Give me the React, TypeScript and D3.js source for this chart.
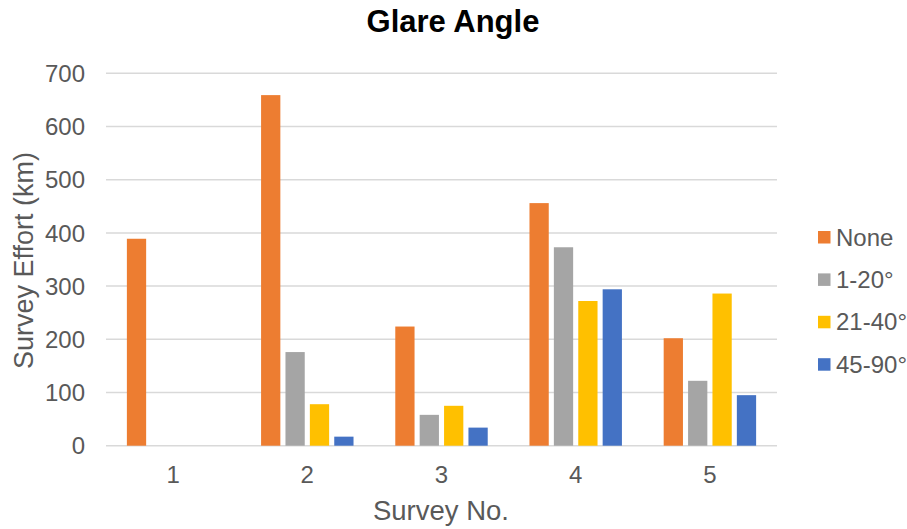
import React from "react";
import * as d3 from "d3";

const categories = ["1", "2", "3", "4", "5"];
const seriesNames = ["None", "1-20°", "21-40°", "45-90°"];
const seriesColors = ["#ED7D31", "#A5A5A5", "#FFC000", "#4472C4"];
const noneValues = [389, 659, 224, 456, 202];
const deg1to20 = [0, 176, 58, 373, 122];
const deg21to40 = [0, 78, 75, 272, 286];
const deg45to90 = [0, 17, 34, 294, 95];
const yTicks = [0, 100, 200, 300, 400, 500, 600, 700];

const seriesValues = [noneValues, deg1to20, deg21to40, deg45to90];

export default function App() {
  const W = 907, H = 529;
  const left = 106, right = 777, top = 73.3, bottom = 445.7;
  const font = "Arial, 'Liberation Sans', sans-serif";

  const x = d3.scaleBand<string>().domain(categories).range([left, right]).paddingInner(0.273).paddingOuter(0.1365);
  const xs = d3.scaleBand<string>().domain(seriesNames).range([0, x.bandwidth()]);
  const y = d3.scaleLinear().domain([0, 700]).range([bottom, top]);
  const barW = xs.bandwidth() * 0.79;

  return (
    <svg width={W} height={H} style={{ position: "absolute", left: 0, top: 0, background: "#fff" }}>
      <rect x={0} y={0} width={W} height={H} fill="#fff" />
      <text x={453} y={32} textAnchor="middle" fontFamily={font} fontWeight="bold" fontSize={31} fill="#000">
        Glare Angle
      </text>
      {yTicks.map((t) => (
        <g key={t}>
          <line x1={left} x2={right} y1={y(t)} y2={y(t)} stroke="#D9D9D9" strokeWidth={1.5} />
          <text x={85} y={y(t)} dy="0.36em" textAnchor="end" fontFamily={font} fontSize={24} fill="#595959">
            {t}
          </text>
        </g>
      ))}
      {categories.map((c, ci) => (
        <g key={c}>
          {seriesNames.map((s, si) => {
            const v = seriesValues[si][ci];
            if (!v) return null;
            const cx = (x(c) as number) + (xs(s) as number) + xs.bandwidth() / 2;
            return (
              <rect
                key={s}
                x={cx - barW / 2}
                y={y(v)}
                width={barW}
                height={y(0) - y(v)}
                fill={seriesColors[si]}
              />
            );
          })}
          <text
            x={(x(c) as number) + x.bandwidth() / 2}
            y={483}
            textAnchor="middle"
            fontFamily={font}
            fontSize={24}
            fill="#595959"
          >
            {c}
          </text>
        </g>
      ))}
      <text x={441} y={520} textAnchor="middle" fontFamily={font} fontSize={27.5} fill="#595959">
        Survey No.
      </text>
      <text
        transform={`translate(33,${(top + bottom) / 2 + 1}) rotate(-90)`}
        textAnchor="middle"
        fontFamily={font}
        fontSize={27}
        fill="#595959"
      >
        Survey Effort (km)
      </text>
      {seriesNames.map((s, i) => {
        const ly = 237 + i * 42.4;
        return (
          <g key={s}>
            <rect x={818} y={ly - 6} width={12.5} height={12.5} fill={seriesColors[i]} />
            <text x={836} y={ly} dy="0.36em" fontFamily={font} fontSize={24} fill="#595959">
              {s}
            </text>
          </g>
        );
      })}
    </svg>
  );
}
